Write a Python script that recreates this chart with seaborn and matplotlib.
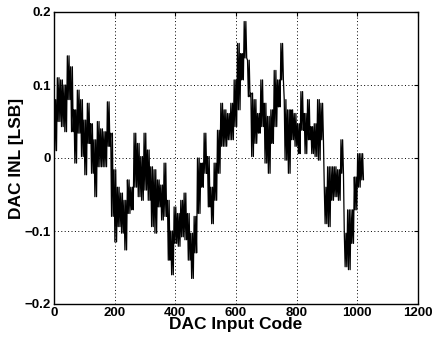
import numpy as np
import pandas as pd
import matplotlib
matplotlib.use("Agg")
import matplotlib.pyplot as plt
import seaborn as sns

# Envelope of the INL trace, in bins of ~11 codes (0..1023)
inl_high = [0.08, 0.11, 0.107, 0.10, 0.14, 0.125, 0.066, 0.093, 0.08, 0.052,
            0.075, 0.047, 0.025, 0.05, 0.04, 0.036, 0.077, 0.034, -0.016, -0.04,
            -0.048, -0.058, -0.03, -0.04, 0.034, 0.02, 0.002, 0.034, 0.011, -0.012,
            -0.016, -0.03, -0.037, -0.007, -0.058, -0.10, -0.067, -0.076, -0.058, -0.048,
            -0.076, -0.103, -0.08, 0.0, -0.007, 0.034, 0.002, -0.04, -0.007, 0.038,
            0.075, 0.066, 0.061, 0.075, 0.107, 0.157, 0.143, 0.187, 0.134, 0.089,
            0.08, 0.061, 0.107, 0.075, 0.057, 0.066, 0.12, 0.107, 0.157, 0.08,
            0.066, 0.066, 0.061, 0.047, 0.091, 0.061, 0.08, 0.043, 0.047, 0.08,
            0.075, -0.04, -0.012, -0.012, -0.012, -0.016, 0.025, -0.103, -0.071, -0.071,
            -0.026, 0.006, 0.006]
inl_low = [0.01, 0.05, 0.043, 0.036, 0.08, 0.036, -0.007, 0.034, 0.002, -0.023,
           0.02, -0.021, -0.053, -0.012, -0.012, -0.012, 0.016, -0.08, -0.115, -0.094,
           -0.103, -0.126, -0.076, -0.071, -0.04, -0.053, -0.058, -0.044, -0.058, -0.094,
           -0.103, -0.067, -0.085, -0.08, -0.14, -0.16, -0.117, -0.121, -0.108, -0.112,
           -0.14, -0.165, -0.13, -0.076, -0.04, -0.021, -0.067, -0.09, -0.058, -0.021,
           0.016, 0.016, 0.025, 0.025, 0.043, 0.066, 0.107, 0.137, 0.084, 0.002,
           0.02, 0.034, 0.043, -0.007, -0.021, 0.02, 0.043, 0.07, 0.107, -0.003,
           -0.021, 0.025, 0.016, 0.006, 0.038, 0.006, 0.025, 0.006, 0.002, -0.003,
           0.025, -0.09, -0.094, -0.058, -0.053, -0.058, -0.021, -0.149, -0.153, -0.117,
           -0.071, -0.04, -0.03]

x_ticks = [0, 200, 400, 600, 800, 1000, 1200]
y_ticks = [-0.2, -0.1, 0, 0.1, 0.2]
y_tick_labels = ["\u22120.2", "\u22120.1", "0", "0.1", "0.2"]

n_bins = len(inl_high)
edges = np.linspace(0, 1023, n_bins + 1)
xs, ys = [], []
for i in range(n_bins):
    a, b = edges[i], edges[i + 1]
    w = b - a
    for k, frac in enumerate([0.0, 0.25, 0.5, 0.75]):
        xs.append(a + frac * w)
        ys.append(inl_high[i] if k % 2 == 0 else inl_low[i])
df = pd.DataFrame({"code": xs, "inl": ys})

sns.set_style("white")
plt.rcParams["font.family"] = ["Liberation Sans", "DejaVu Sans"]
plt.rcParams["font.weight"] = "bold"
plt.rcParams["text.color"] = "black"
plt.rcParams["axes.labelcolor"] = "black"

fig = plt.figure(figsize=(4.33, 3.41), dpi=100)
ax = fig.add_axes([54 / 433, 1 - 304 / 341, 364 / 433, 292 / 341])
sns.lineplot(data=df, x="code", y="inl", ax=ax, color="black", linewidth=0.9,
             estimator=None, sort=False)

ax.set_xlim(0, 1200)
ax.set_ylim(-0.2, 0.2)
ax.set_xticks(x_ticks)
ax.set_xticklabels([str(t) for t in x_ticks], fontsize=9.5, fontweight="bold")
ax.set_yticks(y_ticks)
ax.set_yticklabels(y_tick_labels, fontsize=9.5, fontweight="bold")
ax.grid(True, color="black", linestyle=(0, (1, 2.5)), linewidth=0.7)
ax.tick_params(direction="in", length=3, width=0.8, top=True, right=True, pad=2,
               colors="black", labelcolor="black")
for s in ax.spines.values():
    s.set_color("black")
    s.set_linewidth(1.0)
ax.set_xlabel("DAC Input Code", fontsize=12.5, fontweight="bold", labelpad=-1,
              color="black")
ax.set_ylabel("DAC INL [LSB]", fontsize=12.5, fontweight="bold", labelpad=1,
              color="black")

fig.savefig("out.png", dpi=100)
